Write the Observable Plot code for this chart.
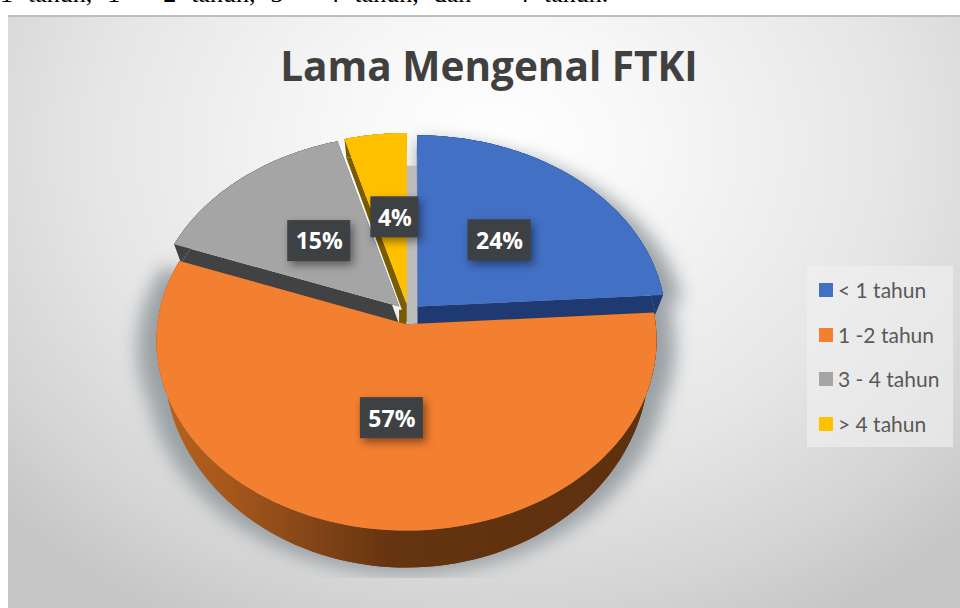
<!DOCTYPE html>
<html><head><meta charset="utf-8">
<script src="https://cdn.jsdelivr.net/npm/d3@7"></script>
<script src="https://cdn.jsdelivr.net/npm/@observablehq/plot@0.6"></script>
<style>
html,body{margin:0;padding:0;background:#fff;overflow:hidden}
#page{position:relative;width:960px;height:608px;overflow:hidden}
#clipText{position:absolute;left:0;top:-21px;white-space:nowrap;font:26px "Liberation Serif",serif;color:#000;word-spacing:8.5px}
#panel{position:absolute;left:8px;top:15px;width:952px;height:593px;border-top:2px solid #bdbdbd;box-sizing:border-box;
background:radial-gradient(ellipse 660px 540px at 51% 22%,#fff 0%,#f8f8f8 22%,#e6e6e6 60%,#d4d4d4 85%,#c6c6c6 100%)}
#title{position:absolute;left:8px;width:962px;top:38px;text-align:center;font:700 40.5px "Open Sans",sans-serif;color:#404040}
#legend{position:absolute;left:807px;top:266px;width:146px;height:181px;background:rgba(240,240,240,.62)}
.row{position:absolute;left:12px;height:16px;font:21px Lato,sans-serif;color:#595959;white-space:nowrap}
.row i{position:absolute;left:0;top:0;width:14px;height:14px}
.row span{position:absolute;left:19px;top:-5px;line-height:24px}
svg{position:absolute;left:0;top:0}
</style></head>
<body>
<div id="page">
  <div id="clipText"></div>
  <div id="panel"></div>
  <div id="chart"></div>
  <div id="title"></div>
  <div id="legend"></div>
</div>
<script>
const titleText = "Lama Mengenal FTKI";
const clippedLine = "1 tahun, 1 – 2 tahun, 3 – 4 tahun, dan > 4 tahun.";
const categories = ["< 1 tahun", "1 -2 tahun", "3 - 4 tahun", "> 4 tahun"];
const shares = [24, 56.6, 15, 4.4];
const topColors = ["#4270c4", "#f37f30", "#a5a5a5", "#ffc000"];
const wallColors = ["#1f3a72", "url(#orangeWall)", "#404244", "#7a5c00"];
const labelU = [0.367, -0.067, -0.36, -0.055];
const labelV = [0.394, -0.557, 0.39, 0.517];

// picture geometry: a tilted, exploded disc
const kx = 248, ky = 187, cx = 408, cy = 313.5, persp = 0.085, explode = 0.055;
const rimInset = 0.97, wallBack = 19 / ky, wallFront = 0.083;

const total = d3.sum(shares);
const ends = d3.cumsum(shares).map(v => v / total * 2 * Math.PI);
const starts = [0, ...ends.slice(0, -1)];
const project = (X, Y) => { const w = 1 + persp * Y; return [X / w, Y / w]; };
const lower = ([u, v]) => [u * rimInset, v - wallBack - wallFront * Math.max(0, -v)];
const apex = i => { const m = (starts[i] + ends[i]) / 2; return [explode * Math.sin(m), explode * Math.cos(m)]; };
const rimPt = (i, t) => { const [a, b] = apex(i); return project(a + Math.sin(t), b + Math.cos(t)); };
const rimArc = i => d3.range(0, 97).map(k => rimPt(i, starts[i] + (ends[i] - starts[i]) * k / 96));
const topFace = i => [project(...apex(i)), ...rimArc(i), project(...apex(i))];
const wallFace = i => {
  const arc = rimArc(i), c = project(...apex(i));
  const ring = [c, ...arc, c];
  return [...ring, ...ring.slice().reverse().map(lower)];
};
const outerWall = i => { const arc = rimArc(i); return [...arc, ...arc.slice().reverse().map(lower)]; };

const poly = (pts, fill) => Plot.line(pts, {x: d => d[0], y: d => d[1], fill, stroke: "none", curve: "linear"});
const gradientDefs = () => {
  const defs = d3.create("svg:defs");
  const g = defs.append("linearGradient").attr("id", "orangeWall");
  [[0, "#b8621f"], [0.15, "#a5571c"], [0.32, "#824417"], [0.47, "#653410"], [1, "#5e300e"]]
    .forEach(([o, c]) => g.append("stop").attr("offset", o).attr("stop-color", c));
  return defs.node();
};

// soft shadow under the disc, cut off at the bottom of the plot frame
const shadowRows = [0, 1].flatMap(i =>
  [...wallFace(i), ...topFace(i)].map(([u, v]) => ({u: u * 1.075, v: v - 0.035, k: i})));
const shadow = Plot.line(shadowRows, {x: "u", y: "v", z: "k", fill: "#9aa1a5", stroke: "none",
  imageFilter: "blur(9px)", clip: "frame"});

const gap = Plot.rect([0], {x1: () => -0.01, x2: () => 0.04, y1: () => 0.79, y2: () => -0.06, fill: "#bcbcbc"});
const wedgeFoot = Plot.rect([0], {x1: () => -0.036, x2: () => -0.008, y1: () => 0.02, y2: () => -0.06, fill: wallColors[3]});

const wedges = i => [
  poly(wallFace(i), wallColors[i]),
  poly(outerWall(i), wallColors[i]),
  poly(topFace(i), topColors[i])
];

const labels = shares.map((s, i) => ({u: labelU[i], v: labelV[i], text: Math.round(s) + "%", w: i === 3 ? 24 : 31.5}));
const labelBoxes = Plot.rect(labels, {
  x1: d => d.u - d.w / kx, x2: d => d.u + d.w / kx,
  y1: d => d.v + 20.5 / ky, y2: d => d.v - 20.5 / ky,
  fill: "#3e4144", imageFilter: "drop-shadow(3px 4px 4px rgba(0,0,0,.45))"
});
const labelText = Plot.text(labels, {x: "u", y: "v", text: "text", fill: "#fff",
  fontFamily: "Open Sans", fontWeight: 700, fontSize: 23, dy: 1});

const chart = Plot.plot({
  width: 960, height: 608,
  marginTop: 0, marginRight: 0, marginLeft: 0, marginBottom: 30,
  style: {background: "transparent"},
  x: {type: "linear", domain: [-cx / kx, (960 - cx) / kx], range: [0, 960], axis: null},
  y: {type: "linear", domain: [cy / ky, (cy - 578) / ky], range: [0, 578], axis: null},
  marks: [gradientDefs, shadow, gap, ...wedges(0), ...wedges(2), ...wedges(3), wedgeFoot, poly(topFace(3), topColors[3]), ...wedges(1), labelBoxes, labelText]
});
document.getElementById("chart").append(chart);
document.getElementById("title").textContent = titleText;
document.getElementById("clipText").textContent = clippedLine;
const legend = document.getElementById("legend");
categories.forEach((c, i) => {
  const row = document.createElement("div");
  row.className = "row";
  row.style.top = (17 + i * 44.7) + "px";
  const sw = document.createElement("i");
  sw.style.background = topColors[i];
  const tx = document.createElement("span");
  tx.textContent = c;
  row.append(sw, tx);
  legend.append(row);
});
</script>
</body></html>
